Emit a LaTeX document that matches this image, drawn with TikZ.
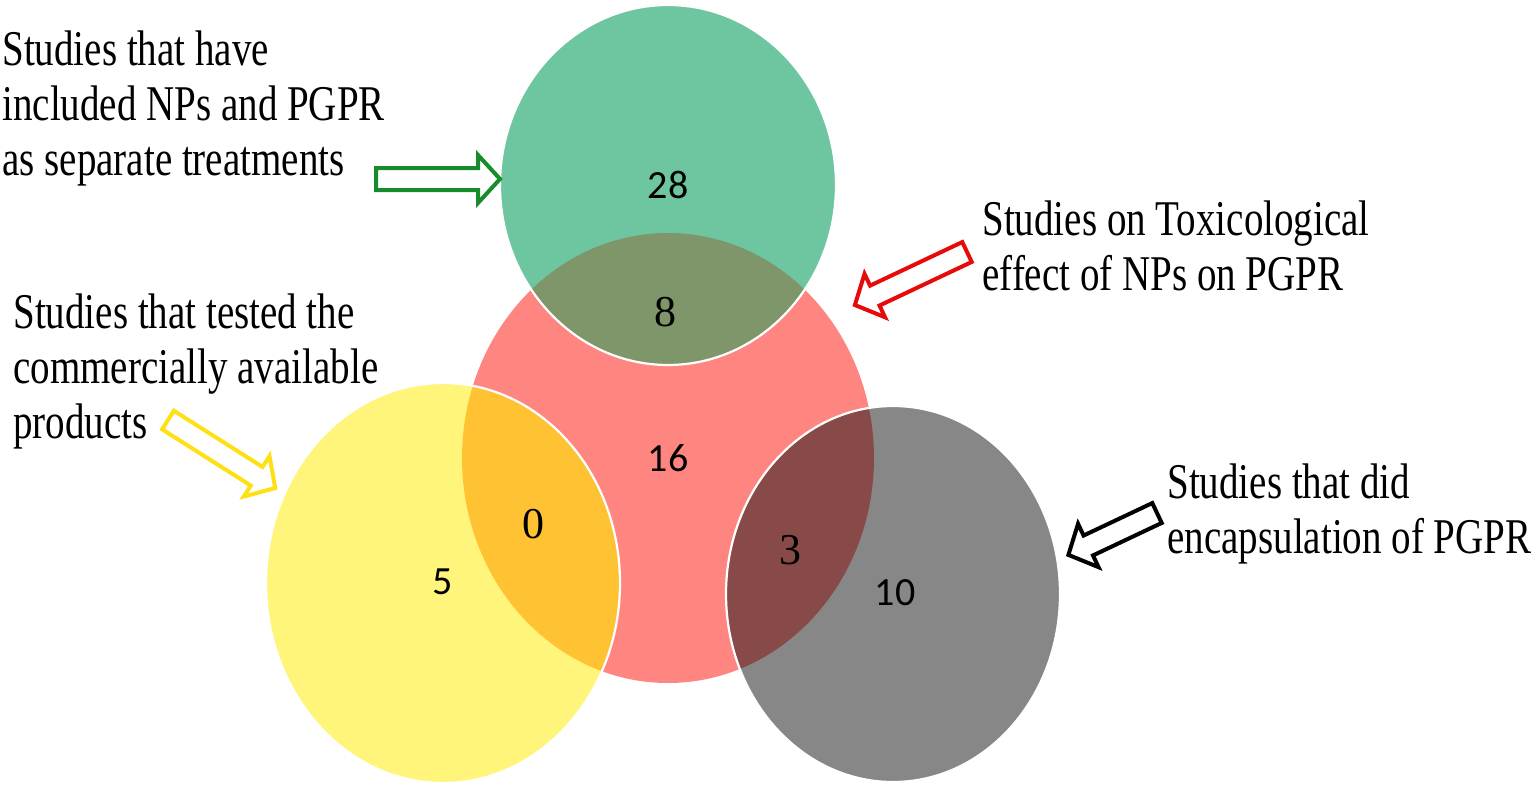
\documentclass[tikz,border=0pt]{standalone}
\usepackage{fontspec}
\setmainfont{Liberation Serif}
\newfontfamily\labelfont[FakeStretch=0.78]{Liberation Serif}
\newfontfamily\numfont{Carlito}
\usetikzlibrary{positioning}

\definecolor{sepgreen}{RGB}{109,198,160}
\definecolor{toxred}{RGB}{255,134,128}
\definecolor{comyellow}{RGB}{255,245,122}
\definecolor{encgray}{RGB}{135,135,135}
\definecolor{olivemix}{RGB}{127,149,106}
\definecolor{orangemix}{RGB}{255,194,50}
\definecolor{brownmix}{RGB}{135,74,72}
\definecolor{arrowgreen}{RGB}{24,140,42}
\definecolor{arrowred}{RGB}{230,10,10}
\definecolor{arrowyellow}{RGB}{255,224,20}

% hollow block arrow: colour, tail, angle, length
\newcommand{\blockarrow}[4]{%
  \begin{scope}[shift={(#2)}, rotate=#3]
    \draw[pointer, draw=#1] (0,-11) -- ({#4-22},-11) -- ({#4-22},-24) -- (#4,0)
      -- ({#4-22},24) -- ({#4-22},11) -- (0,11) -- cycle;
  \end{scope}}

\begin{document}
\begin{tikzpicture}[x=0.5pt,y=-0.5pt,
    note/.style={font=\labelfont\fontsize{25}{27.5}\selectfont, align=left, anchor=base west, inner sep=0pt},
    count/.style={font=\numfont\fontsize{20}{24}\selectfont, inner sep=0pt},
    overlapcount/.style={font=\rmfamily\fontsize{22}{26}\selectfont, inner sep=0pt},
    rim/.style={draw=white, line width=1.1pt},
    pointer/.style={line width=2pt, fill=white, line join=miter}]
  \useasboundingbox (0,0) rectangle (1537,787);

  % sets
  \fill[toxred] (668,458) ellipse [x radius=206, y radius=225];
  \fill[sepgreen] (668,185) ellipse [x radius=168, y radius=180];
  \fill[comyellow] (443,583) ellipse [x radius=177, y radius=200];
  \fill[encgray] (893,594) ellipse [x radius=167, y radius=188];

  % overlaps with the toxicology set
  \begin{scope}
    \clip (668,458) ellipse [x radius=206, y radius=225];
    \fill[olivemix] (668,185) ellipse [x radius=168, y radius=180];
    \fill[orangemix] (443,583) ellipse [x radius=177, y radius=200];
    \fill[brownmix] (893,594) ellipse [x radius=167, y radius=188];
  \end{scope}
  \draw[rim] (668,185) ellipse [x radius=168, y radius=180];
  \draw[rim] (443,583) ellipse [x radius=177, y radius=200];
  \draw[rim] (893,594) ellipse [x radius=167, y radius=188];

  % counts
  \node[count] (n28) at (668,185) {28};
  \node[overlapcount] (n8) at (665,312) {8};
  \node[count] (n16) at (668,458) {16};
  \node[overlapcount] (n0) at (533,524) {0};
  \node[count] (n5) at (443,582) {5};
  \node[overlapcount] (n3) at (790,550) {3};
  \node[count] (n10) at (895,593) {10};

  % labels (base = last line)
  \node[note] (sepnote) at (2,175) {Studies that have\\included NPs and PGPR\\as separate treatments};
  \node[note] (comnote) at (13,438) {Studies that tested the\\commercially available\\products};
  \node[note] (toxnote) at (982,290) {Studies on Toxicological\\effect of NPs on PGPR};
  \node[note] (encnote) at (1167,553) {Studies that did\\encapsulation of PGPR};

  % pointers
  \blockarrow{arrowgreen}{376,179}{0}{124}
  \blockarrow{arrowred}{967,252}{205.3}{124}
  \blockarrow{arrowyellow}{168,420}{-32.4}{127}
  \blockarrow{black}{1157,513}{205.3}{98}
\end{tikzpicture}
\end{document}
